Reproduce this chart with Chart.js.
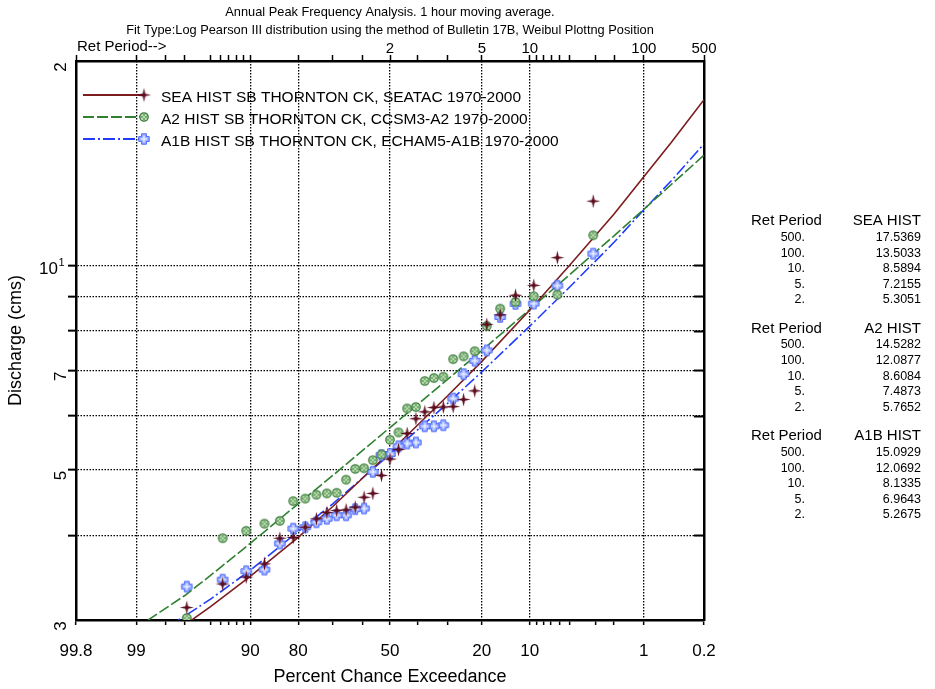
<!DOCTYPE html>
<html><head><meta charset="utf-8">
<script src="https://cdn.jsdelivr.net/npm/chart.js@4/dist/chart.umd.min.js"></script>
<style>
html,body{margin:0;padding:0;background:#fff;}
canvas{display:block;}
</style></head><body>
<canvas id="c" width="935" height="689"></canvas>
<script>
// ---------------- data ----------------
const titleLines = ['Annual Peak Frequency Analysis. 1 hour moving average.',
  'Fit Type:Log Pearson III distribution using the method of Bulletin 17B, Weibul Plottng Position'];
const xAxisTitle = 'Percent Chance Exceedance';
const yAxisTitle = 'Discharge (cms)';
const retPeriodCaption = 'Ret Period-->';
const seriesNames = ['SEA HIST SB THORNTON CK, SEATAC 1970-2000',
  'A2 HIST SB THORNTON CK, CCSM3-A2 1970-2000',
  'A1B HIST SB THORNTON CK, ECHAM5-A1B 1970-2000'];

// x axis (percent chance exceedance, normal probability scale)
const xTickValues = [99.8, 99, 98, 97, 95, 94, 93, 92, 91, 90, 80, 70, 60, 50, 40, 30, 20, 10, 9, 8, 7, 6, 5, 3, 2, 1, 0.2];
const xGridValues = [99, 90, 80, 50, 20, 10, 1];
const xBottomLabelValues = [99.8, 99, 90, 80, 50, 20, 10, 1, 0.2];
const xTopLabelValues = [50, 20, 10, 1, 0.2];
const xTopLabelTexts = ['2', '5', '10', '100', '500'];

// y axis (discharge, log)
const yTickValues = [3, 4, 5, 6, 7, 8, 9, 10, 20];
const yGridValues = [4, 5, 6, 7, 8, 9, 10];
const yLabelValues = [20, 10, 7, 5, 3];
const yLabelTexts = ['2', '10', '7', '5', '3'];

// fitted LP3 curves
const curveExceedance = [99, 97, 95, 90, 80, 70, 50, 30, 20, 10, 5, 2, 1, 0.5, 0.2];
const seaCurve = [2.62, 2.95, 3.14, 3.48, 3.97, 4.41, 5.3051, 6.41, 7.2155, 8.5894, 9.99, 11.9, 13.5033, 15.15, 17.5369];
const a2Curve  = [2.92, 3.26, 3.49, 3.89, 4.45, 4.90, 5.7652, 6.78, 7.4873, 8.6084, 9.68, 11.05, 12.0877, 13.14, 14.5282];
const a1bCurve = [2.74, 3.04, 3.22, 3.55, 4.05, 4.45, 5.2675, 6.25, 6.9643, 8.1335, 9.28, 10.81, 12.0692, 13.31, 15.0929];

// observed annual peaks (Weibull plotting positions, 31 years)
const plotExceedance = [3.125, 6.25, 9.375, 12.5, 15.625, 18.75, 21.875, 25, 28.125, 31.25, 34.375, 37.5, 40.625, 43.75, 46.875, 50,
  53.125, 56.25, 59.375, 62.5, 65.625, 68.75, 71.875, 75, 78.125, 81.25, 84.375, 87.5, 90.625, 93.75, 96.875];
const seaObs = [12.43, 10.26, 9.34, 9.03, 8.45, 8.18, 6.53, 6.34, 6.19, 6.18, 6.17, 6.08, 5.94, 5.65, 5.35, 5.18,
  4.90, 4.61, 4.55, 4.40, 4.36, 4.35, 4.32, 4.23, 4.11, 3.97, 3.96, 3.63, 3.47, 3.39, 3.13];
const a2Obs = [11.07, 9.05, 9.00, 8.83, 8.63, 8.14, 7.47, 7.34, 7.27, 6.85, 6.82, 6.75, 6.18, 6.15, 5.67, 5.53,
  5.26, 5.16, 5.02, 5.01, 4.83, 4.62, 4.61, 4.59, 4.53, 4.49, 4.20, 4.16, 4.06, 3.96, 3.02];
const a1bObs = [10.40, 9.33, 8.78, 8.77, 8.39, 7.49, 7.23, 6.91, 6.36, 5.81, 5.79, 5.79, 5.48, 5.46, 5.41, 5.27,
  5.25, 4.96, 4.38, 4.37, 4.28, 4.28, 4.23, 4.18, 4.11, 4.09, 3.89, 3.56, 3.54, 3.44, 3.36];

// return-period table
const tableRetPeriods = ['500.', '100.', '10.', '5.', '2.'];
const tableHeaders = ['SEA HIST', 'A2 HIST', 'A1B HIST'];
const seaTable = ['17.5369', '13.5033', '8.5894', '7.2155', '5.3051'];
const a2Table = ['14.5282', '12.0877', '8.6084', '7.4873', '5.7652'];
const a1bTable = ['15.0929', '12.0692', '8.1335', '6.9643', '5.2675'];

// ---------------- probability scale ----------------
function normInv(p) {
  const a=[-3.969683028665376e+01,2.209460984245205e+02,-2.759285104469687e+02,1.383577518672690e+02,-3.066479806614716e+01,2.506628277459239e+00];
  const b=[-5.447609879822406e+01,1.615858368580409e+02,-1.556989798598866e+02,6.680131188771972e+01,-1.328068155288572e+01];
  const c=[-7.784894002430293e-03,-3.223964580411365e-01,-2.400758277161838e+00,-2.549732539343734e+00,4.374664141464968e+00,2.938163982698783e+00];
  const d=[7.784695709041462e-03,3.224671290700398e-01,2.445134137142996e+00,3.754408661907416e+00];
  const pl=0.02425, ph=1-pl; let q, r;
  if (p < pl) { q=Math.sqrt(-2*Math.log(p)); return (((((c[0]*q+c[1])*q+c[2])*q+c[3])*q+c[4])*q+c[5])/((((d[0]*q+d[1])*q+d[2])*q+d[3])*q+1); }
  if (p <= ph) { q=p-0.5; r=q*q; return (((((a[0]*r+a[1])*r+a[2])*r+a[3])*r+a[4])*r+a[5])*q/(((((b[0]*r+b[1])*r+b[2])*r+b[3])*r+b[4])*r+1); }
  q=Math.sqrt(-2*Math.log(1-p)); return -(((((c[0]*q+c[1])*q+c[2])*q+c[3])*q+c[4])*q+c[5])/((((d[0]*q+d[1])*q+d[2])*q+d[3])*q+1);
}
function normCdf(z) {
  const t = 1/(1+0.2316419*Math.abs(z));
  const y = 1 - 0.3989422804*Math.exp(-z*z/2)*t*(0.319381530+t*(-0.356563782+t*(1.781477937+t*(-1.821255978+t*1.330274429))));
  return z >= 0 ? y : 1 - y;
}
const zOfExceed = pct => normInv(1 - pct / 100);

class ProbabilityScale extends Chart.Scale {
  parse(raw) { return +raw; }
  determineDataLimits() { this.min = this.options.min; this.max = this.options.max; }
  getUserBounds() {
    return { min: Math.min(this.min, this.max), max: Math.max(this.min, this.max), minDefined: false, maxDefined: false };
  }
  buildTicks() { return (this.options.tickValues || []).map(v => ({ value: v })); }
  getLabelForValue(v) { return String(v); }
  configure() { super.configure(); this._z0 = zOfExceed(this.min); this._z1 = zOfExceed(this.max); }
  getPixelForValue(v) { return this.getPixelForDecimal((zOfExceed(v) - this._z0) / (this._z1 - this._z0)); }
  getPixelForTick(i) { const t = this.ticks; return (i < 0 || i >= t.length) ? null : this.getPixelForValue(t[i].value); }
  getValueForPixel(px) { const z = this._z0 + this.getDecimalForPixel(px) * (this._z1 - this._z0); return 100 * (1 - normCdf(z)); }
}
ProbabilityScale.id = 'probability';
ProbabilityScale.defaults = {};
Chart.register(ProbabilityScale);

// ---------------- markers ----------------
function mk(w, h, fn) { const c = document.createElement('canvas'); c.width = w; c.height = h; const g = c.getContext('2d'); g.translate(w/2, h/2); fn(g); return c; }
const starImg = mk(15, 15, g => {
  g.beginPath();
  for (let i = 0; i < 8; i++) { const r = i % 2 === 0 ? 7 : 1.9; const a = i * Math.PI / 4 - Math.PI / 2; g.lineTo(r*Math.cos(a), r*Math.sin(a)); }
  g.closePath(); g.fillStyle = '#5c0c1e'; g.fill();
});
const circImg = mk(12, 12, g => {
  g.beginPath(); g.arc(0, 0, 4.2, 0, Math.PI*2); g.fillStyle = '#b8ddae'; g.fill();
  g.lineWidth = 1.3; g.strokeStyle = '#3a7a3a'; g.stroke();
  g.fillStyle = '#3a7a3a';
  [[0,-2],[0,2],[-2,0],[2,0]].forEach(([x,y]) => g.fillRect(x-0.7, y-0.7, 1.4, 1.4));
});
const crossImg = mk(14, 14, g => {
  const a = 2.4, L = 5.2;
  g.beginPath();
  g.moveTo(-a,-L); g.lineTo(a,-L); g.lineTo(a,-a); g.lineTo(L,-a); g.lineTo(L,a); g.lineTo(a,a);
  g.lineTo(a,L); g.lineTo(-a,L); g.lineTo(-a,a); g.lineTo(-L,a); g.lineTo(-L,-a); g.lineTo(-a,-a); g.closePath();
  g.fillStyle = '#9fb3ff'; g.fill(); g.lineWidth = 1; g.strokeStyle = '#4a66ff'; g.stroke();
  g.strokeStyle = '#ffffff'; g.lineWidth = 1; g.beginPath(); g.moveTo(0,-3.2); g.lineTo(0,3.2); g.moveTo(-3.2,0); g.lineTo(3.2,0); g.stroke();
});

const seaColor = '#7b1d1f', a2Color = '#2f8030', a1bColor = '#1f3cff';
const seaDash = [], a2Dash = [11, 3], a1bDash = [12, 3, 2, 3];
const markerImgs = [starImg, circImg, crossImg];

const toXY = (xs, ys) => xs.map((x, i) => ({ x: x, y: ys[i] }));

const datasets = [
  { label: seriesNames[0] + ' obs', type: 'scatter', data: toXY(plotExceedance, seaObs), pointStyle: starImg, pointRadius: 7, showLine: false, order: 0 },
  { label: seriesNames[1] + ' obs', type: 'scatter', data: toXY(plotExceedance, a2Obs), pointStyle: circImg, pointRadius: 6, showLine: false, order: 0 },
  { label: seriesNames[2] + ' obs', type: 'scatter', data: toXY(plotExceedance, a1bObs), pointStyle: crossImg, pointRadius: 7, showLine: false, order: 0 },
  { label: seriesNames[0], type: 'line', data: toXY(curveExceedance, seaCurve), borderColor: seaColor, borderWidth: 1.6, borderDash: seaDash, pointRadius: 0, tension: 0, fill: false, order: 1 },
  { label: seriesNames[1], type: 'line', data: toXY(curveExceedance, a2Curve), borderColor: a2Color, borderWidth: 1.6, borderDash: a2Dash, pointRadius: 0, tension: 0, fill: false, order: 1 },
  { label: seriesNames[2], type: 'line', data: toXY(curveExceedance, a1bCurve), borderColor: a1bColor, borderWidth: 1.6, borderDash: a1bDash, pointRadius: 0, tension: 0, fill: false, order: 1 }
];

const FONT = '"Liberation Sans", Arial, Helvetica, sans-serif';
const NARROW = '"Liberation Sans Narrow", "Arial Narrow", ' + FONT;
const CANVAS_W = 935, CANVAS_H = 689;
const PLOT_LEFT = 76, PLOT_RIGHT = 704, PLOT_TOP = 61, PLOT_BOTTOM = 620;

const dotted = [1.5, 1.5];
const xGridColor = ctx => (ctx.tick && xGridValues.includes(ctx.tick.value)) ? '#000' : 'rgba(0,0,0,0)';
const yGridColor = ctx => (ctx.tick && yGridValues.includes(ctx.tick.value)) ? '#000' : 'rgba(0,0,0,0)';

const decorPlugin = {
  id: 'decor',
  afterDraw(chart) {
    const ctx = chart.ctx, area = chart.chartArea, ys = chart.scales.y;
    ctx.save();
    ctx.fillStyle = '#000';
    // titles
    ctx.textAlign = 'center'; ctx.textBaseline = 'middle';
    ctx.font = '12.8px ' + NARROW;
    const cx = (area.left + area.right) / 2;
    ctx.fillText(titleLines[0], cx, 12);
    ctx.fillText(titleLines[1], cx, 30);
    // ret period caption
    ctx.textAlign = 'left'; ctx.font = '15px ' + FONT;
    ctx.fillText(retPeriodCaption, area.left + 1, 47);
    // axis titles
    ctx.textAlign = 'center'; ctx.font = '18px ' + FONT;
    ctx.fillText(xAxisTitle, cx, 677);
    ctx.save(); ctx.translate(16, (area.top + area.bottom) / 2); ctx.rotate(-Math.PI / 2);
    ctx.fillText(yAxisTitle, 0, 0); ctx.restore();
    // y labels
    yLabelValues.forEach((v, i) => {
      const py = ys.getPixelForValue(v);
      if (v === 10) {
        ctx.font = '17px ' + FONT; ctx.textAlign = 'right'; ctx.textBaseline = 'middle';
        ctx.fillText('10', 58, py + 4);
        ctx.font = '11px ' + FONT; ctx.textAlign = 'left';
        ctx.fillText('1', 58.5, py - 2);
      } else {
        ctx.save(); ctx.translate(61, py + 6); ctx.rotate(-Math.PI / 2);
        ctx.font = '17px ' + FONT; ctx.textAlign = 'center'; ctx.textBaseline = 'middle';
        ctx.fillText(yLabelTexts[i], 0, 0); ctx.restore();
      }
    });
    // inner tick marks on right border
    ctx.strokeStyle = '#000'; ctx.lineWidth = 2;
    yGridValues.forEach(v => {
      const py = Math.round(ys.getPixelForValue(v)) + 0.5;
      ctx.beginPath(); ctx.moveTo(area.right - 10, py); ctx.lineTo(area.right, py); ctx.stroke();
    });
    // legend
    const rows = [95, 117, 139];
    const colors = [seaColor, a2Color, a1bColor], dashes = [seaDash, a2Dash, a1bDash];
    rows.forEach((ry, i) => {
      ctx.save(); ctx.strokeStyle = colors[i]; ctx.lineWidth = 1.8; ctx.setLineDash(dashes[i]);
      ctx.beginPath(); ctx.moveTo(83, ry); ctx.lineTo(143, ry); ctx.stroke(); ctx.restore();
      const im = markerImgs[i];
      ctx.drawImage(im, 144 - im.width / 2, ry - im.height / 2);
      ctx.font = '15.5px ' + FONT; ctx.textAlign = 'left'; ctx.textBaseline = 'middle'; ctx.fillStyle = '#000';
      ctx.fillText(seriesNames[i], 161, ry + 3);
    });
    // table
    const tables = [seaTable, a2Table, a1bTable];
    tables.forEach((vals, b) => {
      const y0 = 221 + b * 107.5;
      ctx.font = '15px ' + FONT; ctx.textBaseline = 'middle';
      ctx.textAlign = 'left'; ctx.fillText('Ret Period', 751, y0);
      ctx.textAlign = 'right'; ctx.fillText(tableHeaders[b], 921, y0);
      ctx.font = '12.5px ' + FONT;
      vals.forEach((v, r) => {
        const yy = y0 + 16.5 + r * 15.6;
        ctx.textAlign = 'right';
        ctx.fillText(tableRetPeriods[r], 805, yy);
        ctx.fillText(v, 921, yy);
      });
    });
    ctx.restore();
  }
};

new Chart(document.getElementById('c'), {
  type: 'scatter',
  data: { datasets },
  options: {
    responsive: false, animation: false, devicePixelRatio: 1,
    layout: { padding: 0 },
    plugins: { legend: { display: false }, tooltip: { enabled: false }, title: { display: false } },
    scales: {
      x: {
        type: 'probability', position: 'bottom', min: 99.8, max: 0.2, tickValues: xTickValues,
        afterFit: s => { s.height = CANVAS_H - PLOT_BOTTOM; },
        grid: { color: xGridColor, lineWidth: 1.3, tickColor: '#000', tickLength: 5, tickWidth: 1.5 },
        border: { display: true, color: '#000', width: 2.5, dash: dotted },
        ticks: { autoSkip: false, maxRotation: 0, minRotation: 0, padding: 16, color: '#000',
          font: { family: FONT, size: 17 },
          callback: v => xBottomLabelValues.includes(v) ? String(v) : '' }
      },
      xTop: {
        type: 'probability', position: 'top', min: 99.8, max: 0.2, tickValues: xTickValues,
        afterFit: s => { s.height = PLOT_TOP; },
        grid: { drawOnChartArea: false, tickColor: '#000', tickLength: 6, tickWidth: 1.5 },
        border: { display: true, color: '#000', width: 2.5 },
        ticks: { autoSkip: false, maxRotation: 0, minRotation: 0, padding: -3, color: '#000',
          font: { family: FONT, size: 15 },
          callback: v => { const k = xTopLabelValues.indexOf(v); return k >= 0 ? xTopLabelTexts[k] : ''; } }
      },
      y: {
        type: 'logarithmic', position: 'left', min: 3, max: 20,
        afterBuildTicks: s => { s.ticks = yTickValues.map(v => ({ value: v })); },
        afterFit: s => { s.width = PLOT_LEFT; },
        grid: { color: yGridColor, lineWidth: 1.3, tickColor: ctx => (ctx.tick && yGridValues.includes(ctx.tick.value)) ? '#000' : 'rgba(0,0,0,0)', tickLength: 8, tickWidth: 2 },
        border: { display: true, color: '#000', width: 2.5, dash: dotted },
        ticks: { display: false }
      },
      yRight: {
        type: 'logarithmic', position: 'right', min: 3, max: 20,
        afterBuildTicks: s => { s.ticks = yTickValues.map(v => ({ value: v })); },
        afterFit: s => { s.width = CANVAS_W - PLOT_RIGHT; },
        grid: { drawOnChartArea: false, drawTicks: false },
        border: { display: true, color: '#000', width: 2.5 },
        ticks: { display: false }
      }
    }
  },
  plugins: [decorPlugin]
});
</script>
</body></html>
